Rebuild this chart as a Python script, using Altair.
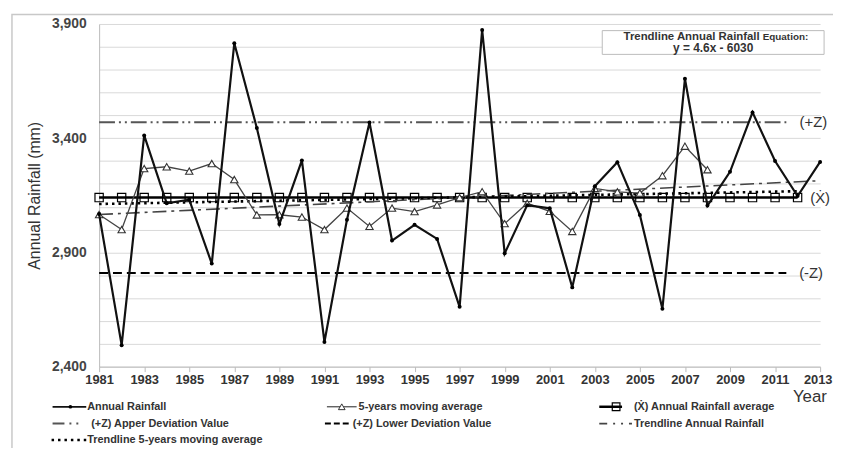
import altair as alt
import pandas as pd

# ---------------- data ----------------
years = list(range(1981, 2014))
rainfall = [3068, 2494, 3412, 3115, 3131, 2851, 3816, 3445, 3024, 3303,
            2508, 3043, 3469, 2952, 3021, 2959, 2662, 3874, 2896, 3107,
            3093, 2747, 3190, 3295, 3064, 2653, 3660, 3105, 3253, 3513,
            3300, 3147, 3296]

ma_years = list(range(1981, 2009))
moving_avg = [3066, 3000, 3267, 3275, 3256, 3289, 3219, 3064, 3065, 3055,
              3000, 3094, 3014, 3094, 3079, 3108, 3140, 3166, 3026, 3115,
              3080, 2992, 3180, 3165, 3160, 3236, 3365, 3262]

mean_years = list(range(1981, 2013))
mean_value = 3140
upper_z = 3470
lower_z = 2810
z_years = [1981, 2011.5]

trend_years = [1981, 2013]
trend_rain = [3066, 3214]
trend_ma_years = [1981, 2012]
trend_ma = [3112, 3168]

side_labels = ["(+Z)", "(\u1E8A)", "(-Z)"]
side_label_years = [2012.7, 2013.0, 2012.6]
side_label_values = [upper_z, mean_value, lower_z]

x_ticks = list(range(1981, 2014, 2))
y_grid = list(range(2400, 3901, 100))

# ---------------- frames ----------------
df_rain = pd.DataFrame({"year": years, "value": rainfall})
df_ma = pd.DataFrame({"year": ma_years, "value": moving_avg})
df_mean = pd.DataFrame({"year": mean_years, "value": [mean_value] * len(mean_years)})
df_up = pd.DataFrame({"year": z_years, "value": [upper_z] * 2})
df_lo = pd.DataFrame({"year": z_years, "value": [lower_z] * 2})
df_tr = pd.DataFrame({"year": trend_years, "value": trend_rain})
df_tma = pd.DataFrame({"year": trend_ma_years, "value": trend_ma})
df_lab = pd.DataFrame({"year": side_label_years, "value": side_label_values,
                       "label": side_labels})
one = pd.DataFrame({"k": [0]})

FONT = "Liberation Sans"
W, H = 728, 346

xs = alt.Scale(domain=[1981, 2013], nice=False, zero=False)
ys = alt.Scale(domain=[2400, 3900], nice=False, zero=False)

X = alt.X("year:Q", scale=xs, axis=alt.Axis(
    values=x_ticks, format="d", labelFlush=False, grid=False,
    labelFont=FONT, labelFontWeight="bold", labelFontSize=13, labelColor="#333",
    labelAlign=alt.condition("datum.value == 2013", alt.value("right"), alt.value("center")),
    labelOffset=alt.condition("datum.value == 2013", alt.value(12), alt.value(0)),
    labelPadding=2, tickSize=5, tickColor="#bbb", domainColor="#bbb",
    title="Year", titleFont=FONT, titleFontSize=17, titleFontWeight="normal",
    titleColor="#333", titleX=700, titleY=22, titleAlign="left",
    titleBaseline="top"))
Y = alt.Y("value:Q", scale=ys, axis=alt.Axis(
    values=y_grid,
    labelExpr="(datum.value - 2400) % 500 == 0 ? format(datum.value, ',') : ''",
    grid=True, gridColor="#d9d9d9", gridWidth=1, ticks=False,
    domainColor="#bbb", labelFont=FONT, labelFontWeight="bold",
    labelFontSize=14, labelColor="#444", labelPadding=13,
    title="Annual Rainfall (mm)", titleFont="Liberation Sans Narrow, Liberation Sans",
    titleFontSize=16, titleFontWeight="normal", titleColor="#333",
    titleX=-65, titleY=173, titleAngle=270, titleAlign="center",
    titleBaseline="middle"))

# ---------------- data layers ----------------
mean_line = alt.Chart(df_mean).mark_line(color="black", strokeWidth=2.5).encode(x=X, y=Y)
mean_pts = alt.Chart(df_mean).mark_point(shape="square", size=70, filled=False,
                                         stroke="black", strokeWidth=1.2,
                                         opacity=1).encode(x=X, y=Y)
trend_line = alt.Chart(df_tr).mark_line(color="#444", strokeWidth=1.6,
                                        strokeDash=[14, 5, 3, 5]).encode(x=X, y=Y)
trend_ma_line = alt.Chart(df_tma).mark_line(color="black", strokeWidth=2.6,
                                            strokeDash=[2.5, 4]).encode(x=X, y=Y)
up_line = alt.Chart(df_up).mark_line(color="#555", strokeWidth=2,
                                     strokeDash=[16, 4, 2, 4, 2, 4]).encode(x=X, y=Y)
lo_line = alt.Chart(df_lo).mark_line(color="black", strokeWidth=2,
                                     strokeDash=[9, 5]).encode(x=X, y=Y)
ma_line = alt.Chart(df_ma).mark_line(color="#444", strokeWidth=1.3).encode(x=X, y=Y)
ma_pts = alt.Chart(df_ma).mark_point(shape="triangle-up", size=55, filled=True,
                                     fill="white", stroke="#333", strokeWidth=1.1,
                                     opacity=1).encode(x=X, y=Y)
rain_line = alt.Chart(df_rain).mark_line(color="#111", strokeWidth=2.2).encode(x=X, y=Y)
rain_pts = alt.Chart(df_rain).mark_point(shape="circle", size=16, filled=True,
                                         color="black", opacity=1).encode(x=X, y=Y)
side_text = alt.Chart(df_lab).mark_text(font=FONT, fontSize=15, color="#333",
                                        align="center", baseline="middle").encode(
    x=X, y=Y, text="label:N")


# ---------------- decorations (layout) ----------------
def hrule(x1, x2, y, **style):
    return alt.Chart(one).mark_rule(**style).encode(
        x=alt.value(x1), x2=alt.value(x2), y=alt.value(y))


def ptmark(x, y, **style):
    return alt.Chart(one).mark_point(opacity=1, **style).encode(
        x=alt.value(x), y=alt.value(y))


def label(x, y, text, size=11, weight="bold", align="left", color="#333"):
    return alt.Chart(one).mark_text(text=text, font=FONT, fontSize=size,
                                    fontWeight=weight, align=align,
                                    baseline="middle", color=color).encode(
        x=alt.value(x), y=alt.value(y))


frame = alt.Chart(one).mark_rect(fillOpacity=0, stroke="#c8c8c8", strokeWidth=1.5).encode(
    x=alt.value(-88), x2=alt.value(760), y=alt.value(-9.5), y2=alt.value(460))

eq_box = alt.Chart(one).mark_rect(fill="white", stroke="#bbb", strokeWidth=1).encode(
    x=alt.value(508), x2=alt.value(732), y=alt.value(6.7), y2=alt.value(30.7))
eq_t1 = label(667, 13, "Trendline Annual Rainfall", size=11.5, align="right")
eq_t2 = label(670, 13.5, "Equation:", size=10)
eq_t3 = label(620, 24.5, "y = 4.6x - 6030", size=12, align="center")

r1, r2, r3 = 386.5, 403.5, 420
c1, c2, c3 = -47, 230, 505

legend_layers = [
    # Annual Rainfall
    hrule(c1, c1 + 34, r1, color="#111", strokeWidth=1.8),
    ptmark(c1 + 18, r1, shape="circle", size=14, filled=True, color="black"),
    label(c1 + 35, r1, "Annual Rainfall"),
    # 5-years moving average
    hrule(c2, c2 + 30, r1, color="#444", strokeWidth=1.2),
    ptmark(c2 + 15, r1, shape="triangle-up", size=45, filled=True, fill="white",
           stroke="#333", strokeWidth=1),
    label(c2 + 32, r1, "5-years moving average"),
    # mean
    hrule(c3, c3 + 23, r1, color="black", strokeWidth=2.5),
    ptmark(c3 + 17, r1, shape="square", size=60, filled=False, stroke="black",
           strokeWidth=1.2),
    label(c3 + 35, r1, "(\u1E8A) Annual Rainfall average"),
    # +Z
    hrule(c1, c1 + 29, r2, color="#555", strokeWidth=2, strokeDash=[12, 5, 2, 5, 2, 5]),
    label(c1 + 39, r2, "(+Z) Apper Deviation Value"),
    # -Z
    hrule(c2 - 2, c2 + 22, r2, color="black", strokeWidth=2, strokeDash=[6, 3]),
    label(c2 + 26, r2, "(+Z) Lower Deviation Value"),
    # Trendline annual
    hrule(c3, c3 + 33, r2, color="#444", strokeWidth=1.6, strokeDash=[8, 6, 2, 6, 2, 6]),
    label(c3 + 35, r2, "Trendline Annual Rainfall"),
    # Trendline MA
    hrule(c1 - 1, c1 + 34, r3, color="black", strokeWidth=2.6, strokeDash=[2.5, 4]),
    label(c1 + 35, r3, "Trendline 5-years moving average"),
]

chart = alt.layer(
    mean_line, mean_pts, trend_line, trend_ma_line, up_line, lo_line,
    ma_line, ma_pts, rain_line, rain_pts, side_text,
    eq_box, eq_t1, eq_t2, eq_t3, frame, *legend_layers
).properties(
    width=W, height=H,
    padding={"left": 92, "top": 14, "right": 13, "bottom": 80},
    autosize=alt.AutoSizeParams(type="none"),
    background="white",
).configure_view(strokeWidth=0)

chart.save("out.html", embed_options={"renderer": "svg", "actions": False})
